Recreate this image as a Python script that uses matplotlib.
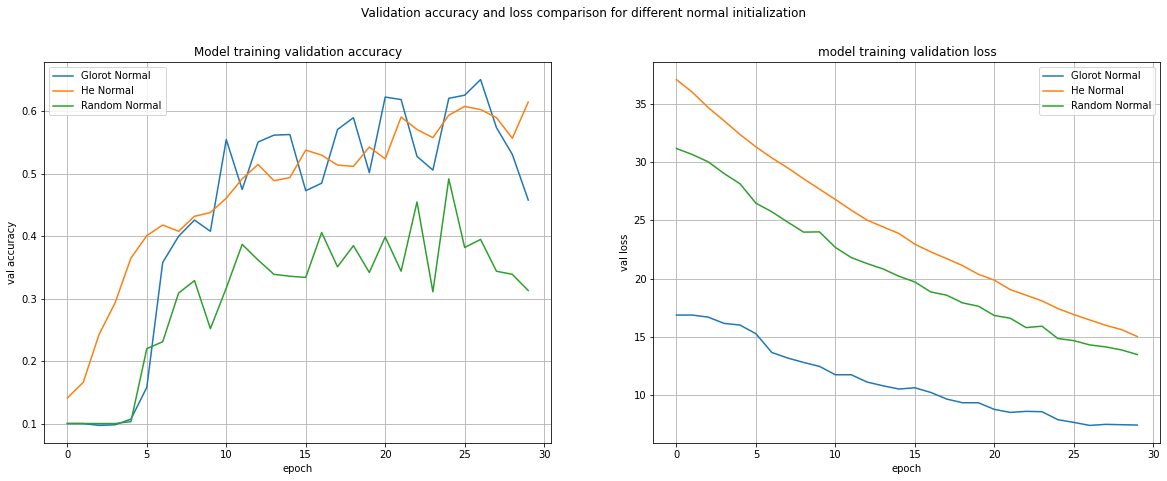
import numpy as np
import matplotlib
matplotlib.use('Agg')
import matplotlib.pyplot as plt

# epochs
epochs = np.arange(30)

# validation accuracy
acc_glorot = [0.100, 0.100, 0.097, 0.098, 0.107, 0.158, 0.358, 0.400, 0.426, 0.408,
              0.555, 0.475, 0.551, 0.562, 0.563, 0.473, 0.485, 0.571, 0.590, 0.502,
              0.623, 0.619, 0.528, 0.506, 0.621, 0.626, 0.651, 0.574, 0.531, 0.458]
acc_he = [0.141, 0.166, 0.243, 0.293, 0.365, 0.401, 0.418, 0.408, 0.432, 0.438,
          0.461, 0.492, 0.515, 0.489, 0.494, 0.538, 0.530, 0.514, 0.512, 0.543,
          0.524, 0.591, 0.571, 0.558, 0.594, 0.608, 0.603, 0.590, 0.557, 0.615]
acc_random = [0.100, 0.100, 0.100, 0.100, 0.103, 0.220, 0.231, 0.309, 0.329, 0.252,
              0.317, 0.387, 0.362, 0.339, 0.336, 0.334, 0.406, 0.351, 0.385, 0.342,
              0.399, 0.344, 0.455, 0.311, 0.492, 0.382, 0.395, 0.344, 0.339, 0.313]

# validation loss
loss_glorot = [16.86, 16.86, 16.68, 16.14, 16.00, 15.25, 13.64, 13.16, 12.78, 12.44,
               11.72, 11.72, 11.09, 10.77, 10.49, 10.60, 10.20, 9.63, 9.31, 9.31,
               8.74, 8.48, 8.57, 8.54, 7.85, 7.62, 7.36, 7.45, 7.42, 7.39]
loss_he = [37.13, 36.04, 34.72, 33.58, 32.40, 31.34, 30.39, 29.53, 28.59, 27.70,
           26.81, 25.89, 25.03, 24.45, 23.88, 22.96, 22.30, 21.72, 21.12, 20.37,
           19.86, 19.05, 18.57, 18.08, 17.42, 16.90, 16.44, 15.98, 15.61, 15.01]
loss_random = [31.20, 30.68, 30.05, 29.04, 28.16, 26.49, 25.75, 24.86, 24.00, 24.02,
               22.68, 21.81, 21.29, 20.83, 20.20, 19.71, 18.85, 18.57, 17.91, 17.62,
               16.82, 16.59, 15.78, 15.90, 14.84, 14.66, 14.29, 14.12, 13.86, 13.46]

labels = ['Glorot Normal', 'He Normal', 'Random Normal']

W, H = 1167, 481
fig = plt.figure(figsize=(W / 72, H / 72), dpi=72)
fig.suptitle('Validation accuracy and loss comparison for different normal initialization',
             y=1 - 13 / H, va='center')

ax1 = fig.add_axes([44.3 / W, 38.3 / H, 507 / W, 380.4 / H])
ax1.plot(epochs, acc_glorot, label=labels[0])
ax1.plot(epochs, acc_he, label=labels[1])
ax1.plot(epochs, acc_random, label=labels[2])
ax1.set_title('Model training validation accuracy')
ax1.set_xlabel('epoch')
ax1.set_ylabel('val accuracy')
ax1.grid(True)
ax1.legend(loc='upper left')

ax2 = fig.add_axes([653.4 / W, 38.3 / H, 507 / W, 380.4 / H])
ax2.plot(epochs, loss_glorot, label=labels[0])
ax2.plot(epochs, loss_he, label=labels[1])
ax2.plot(epochs, loss_random, label=labels[2])
ax2.set_title('model training validation loss')
ax2.set_xlabel('epoch')
ax2.set_ylabel('val loss')
ax2.grid(True)
ax2.legend(loc='upper right')

fig.savefig('out.png', dpi=72)
